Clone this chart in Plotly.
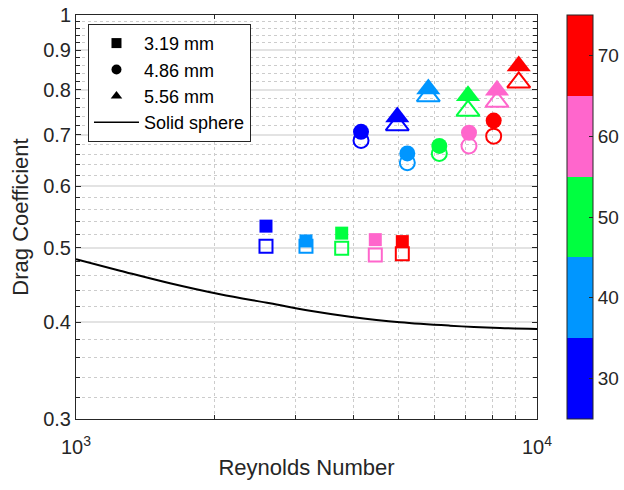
import numpy as np
import plotly.graph_objects as go

# ---------------- data ----------------
temps = [30, 40, 50, 60, 70]

re_319 = [2583, 3154, 3770, 4459, 5103]
cd_319_filled = [0.533, 0.510, 0.522, 0.512, 0.509]
cd_319_open = [0.502, 0.502, 0.499, 0.489, 0.491]

re_486 = [4152, 5232, 6139, 7120, 8054]
cd_486_filled = [0.706, 0.662, 0.677, 0.704, 0.730]
cd_486_open = [0.688, 0.644, 0.662, 0.677, 0.697]

re_556 = [4977, 5811, 7085, 8189, 9128]
cd_556_filled = [0.738, 0.802, 0.786, 0.799, 0.859]
cd_556_open = [0.720, 0.785, 0.752, 0.772, 0.818]

re_sphere = [1000, 1246, 1599, 2053, 2635, 3218, 3930, 5044, 6476, 8311, 10000]
cd_sphere = [0.4828, 0.4667, 0.4495, 0.4350, 0.4235, 0.4143, 0.4070, 0.4002, 0.3962, 0.3935, 0.3923]

band_colors = ["#0000FF", "#0096FF", "#00FF40", "#FF66CC", "#FF0000"]
cbar_ticks = [30, 40, 50, 60, 70]
y_ticks = [0.3, 0.4, 0.5, 0.6, 0.7, 0.8, 0.9, 1.0]
y_labels = ["0.3", "0.4", "0.5", "0.6", "0.7", "0.8", "0.9", "1"]
y_minor = [round(0.3 + 0.02 * i, 2) for i in range(1, 35) if round((0.3 + 0.02 * i) * 100) % 10 != 0]
x_ticks = [1000, 10000]
x_labels = ["10<sup>3</sup>", "10<sup>4</sup>"]
x_minor = [2000, 3000, 4000, 5000, 6000, 7000, 8000, 9000]

FONT = "Liberation Sans, Arial, Helvetica, sans-serif"
TXT = "#262626"

# discrete colorscale
cs = []
n = len(band_colors)
for i, c in enumerate(band_colors):
    cs.append([i / n, c])
    cs.append([(i + 1) / n, c])

fig = go.Figure()

def add_series(x, y, symbol, size, open_):
    fig.add_trace(go.Scatter(
        x=x, y=y, mode="markers", showlegend=False, hoverinfo="skip",
        marker=dict(symbol=symbol + ("-open" if open_ else ""), size=size,
                    color=temps, coloraxis="coloraxis",
                    line=dict(width=2 if open_ else 0))))

# open markers first, filled drawn on top
add_series(re_319, cd_319_open, "square", 13, True)
add_series(re_486, cd_486_open, "circle", 15, True)
add_series(re_556, cd_556_open, "triangle-up", 20, True)
add_series(re_319, cd_319_filled, "square", 13, False)
add_series(re_486, cd_486_filled, "circle", 16, False)
add_series(re_556, cd_556_filled, "triangle-up", 21, False)

fig.add_trace(go.Scatter(x=re_sphere, y=cd_sphere, mode="lines",
                         line=dict(color="black", width=2, shape="spline"),
                         name="Solid sphere", showlegend=False, hoverinfo="skip"))

# legend entries
for nm, sym in [("3.19 mm", "square"), ("4.86 mm", "circle"), ("5.56 mm", "triangle-up")]:
    fig.add_trace(go.Scatter(x=[None], y=[None], mode="markers", name=nm,
                             marker=dict(symbol=sym, size=10, color="black")))
fig.add_trace(go.Scatter(x=[None], y=[None], mode="lines", name="Solid sphere",
                         line=dict(color="black", width=1.5)))

fig.update_layout(
    width=624, height=490,
    margin=dict(l=76, r=87, t=15, b=71, autoexpand=False),
    paper_bgcolor="white", plot_bgcolor="white",
    font=dict(family=FONT, size=19, color=TXT),
    showlegend=True,
    legend=dict(x=0.026, y=0.978, xanchor="left", yanchor="top",
                bgcolor="white", bordercolor=TXT, borderwidth=1,
                font=dict(size=18, color="black"), itemwidth=45,
                tracegroupgap=0),
    coloraxis=dict(cmin=25, cmax=75, colorscale=cs,
                   colorbar=dict(x=1.065, xanchor="left", xpad=0, ypad=0,
                                 y=0.5, yanchor="middle", len=1, lenmode="fraction",
                                 thickness=26, outlinecolor=TXT, outlinewidth=1,
                                 tickmode="array", tickvals=cbar_ticks,
                                 ticks="inside", ticklen=4, tickcolor=TXT,
                                 tickfont=dict(size=19, color=TXT, family=FONT))),
)

fig.update_xaxes(
    type="log", range=[3, 4],
    tickmode="array", tickvals=x_ticks, ticktext=x_labels,
    tickfont=dict(size=20, color=TXT), ticklabelstandoff=10,
    ticks="inside", ticklen=5, tickcolor=TXT,
    showline=True, linecolor=TXT, linewidth=1, mirror="allticks",
    showgrid=True, gridcolor="#e3e3e3", gridwidth=1.5,
    zeroline=False,
    minor=dict(tickmode="array", tickvals=x_minor, ticks="inside", ticklen=4,
               tickcolor=TXT, showgrid=True, gridcolor="#cccccc", griddash="dot",
               gridwidth=1),
    title=dict(text="Reynolds Number", font=dict(size=22, color=TXT), standoff=2),
)

fig.update_yaxes(
    type="log", range=[np.log10(0.3) - 1e-6, 1e-6],
    tickmode="array", tickvals=y_ticks, ticktext=y_labels,
    tickfont=dict(size=20, color=TXT),
    ticks="inside", ticklen=5, tickcolor=TXT,
    showline=True, linecolor=TXT, linewidth=1, mirror="allticks",
    showgrid=True, gridcolor="#e3e3e3", gridwidth=1.5,
    zeroline=False,
    minor=dict(tickmode="array", tickvals=y_minor, ticks="inside", ticklen=4,
               tickcolor=TXT, showgrid=True, gridcolor="#cccccc", griddash="dot",
               gridwidth=1),
    title=dict(text="Drag Coefficient", font=dict(size=22, color=TXT), standoff=8),
)

fig.write_html("out.html")
